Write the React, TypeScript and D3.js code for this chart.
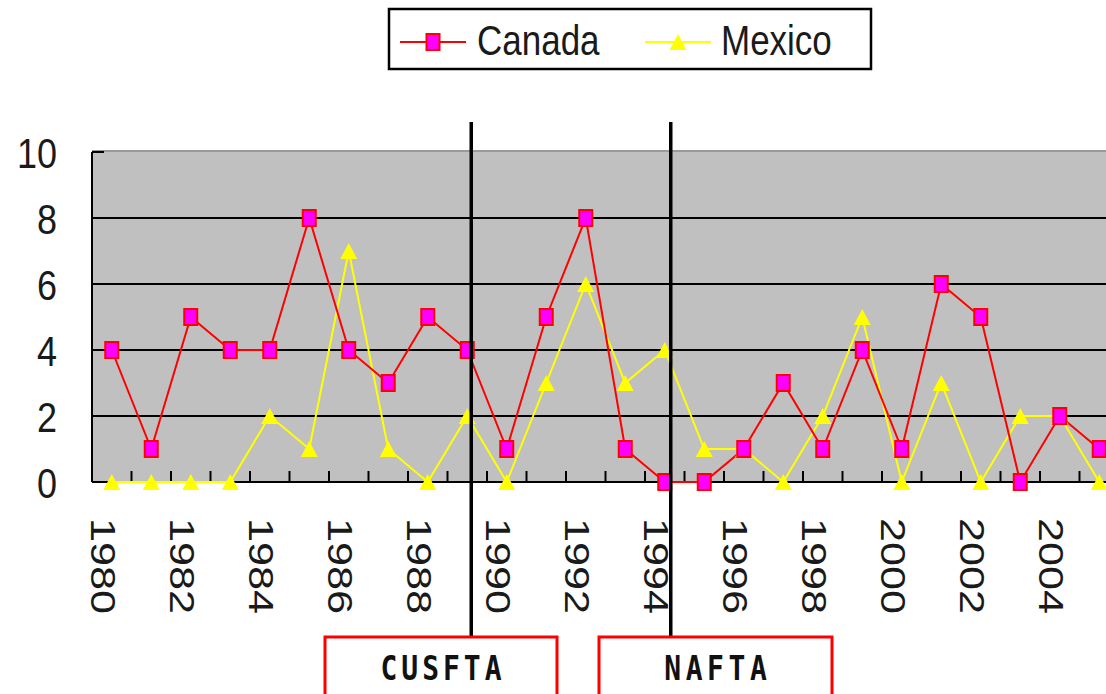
import React from "react";
import * as d3 from "d3";

const years: string[] = [
  "1980", "1981", "1982", "1983", "1984", "1985", "1986", "1987", "1988", "1989",
  "1990", "1991", "1992", "1993", "1994", "1995", "1996", "1997", "1998", "1999",
  "2000", "2001", "2002", "2003", "2004", "2005",
];
const canada: number[] = [4, 1, 5, 4, 4, 8, 4, 3, 5, 4, 1, 5, 8, 1, 0, 0, 1, 3, 1, 4, 1, 6, 5, 0, 2, 1];
const mexico: number[] = [0, 0, 0, 0, 2, 1, 7, 1, 0, 2, 0, 3, 6, 3, 4, 1, 1, 0, 2, 5, 0, 3, 0, 2, 2, 0];
const yTicks: number[] = [0, 2, 4, 6, 8, 10];
const labelYears: string[] = years.filter((_, i) => i % 2 === 0);
const events: { label: string; after: string }[] = [
  { label: "CUSFTA", after: "1989" },
  { label: "NAFTA", after: "1994" },
];

const W = 1106;
const H = 694;
const left = 92;
const bandW = 39.5;
const SY = 1.2;
const font = "'Liberation Sans', Arial, sans-serif";

export default function App() {
  const x = d3.scaleBand<string>().domain(years).range([left, left + years.length * bandW]).padding(0);
  const y = d3.scaleLinear().domain([0, 10]).range([482, 152]);
  const cx = (d: string) => (x(d) as number) + x.bandwidth() / 2;
  const plotRight = left + years.length * bandW;

  const line = d3
    .line<number>()
    .x((_, i) => cx(years[i]))
    .y((d) => y(d));

  const tri = (px: number, py: number, w = 17, h = 16) =>
    `M${px},${py - h / 2}L${px + w / 2},${py + h / 2}L${px - w / 2},${py + h / 2}Z`;

  // event lines are hand-placed overlays just right of the category
  const eventOffsets = [4, 6];
  const boxes = [
    { x0: 325, x1: 557, ls: 4 },
    { x0: 599, x1: 832, ls: 4.6 },
  ];

  return (
    <svg width={W} height={H} style={{ position: "absolute", left: 0, top: 0, background: "#fff" }}>
      {/* Legend */}
      <rect x={389} y={9} width={482} height={60} fill="#fff" stroke="#000" strokeWidth={2.5} />
      <line x1={400} x2={466} y1={42} y2={42} stroke="#ff0000" strokeWidth={2} />
      <rect x={433 - 6.5} y={42 - 8} width={13} height={16} fill="#ff00ff" stroke="#ff0000" strokeWidth={2} />
      <text transform={`translate(477,55) scale(1,${SY})`} fontFamily={font} fontSize={35} fill="#1a1a1a">
        Canada
      </text>
      <line x1={645} x2={711} y1={42} y2={42} stroke="#ffff00" strokeWidth={2} />
      <path d={tri(678, 42)} fill="#ffff00" />
      <text transform={`translate(721,55) scale(1,${SY})`} fontFamily={font} fontSize={35} fill="#1a1a1a">
        Mexico
      </text>

      {/* Plot area */}
      <rect x={left} y={y(10)} width={plotRight - left} height={y(0) - y(10)} fill="#c0c0c0" />
      <line x1={left} x2={plotRight} y1={y(10) - 1} y2={y(10) - 1} stroke="#9a9a9a" strokeWidth={2} />
      {yTicks
        .filter((t) => t > 0 && t < 10)
        .map((t) => (
          <line key={t} x1={left} x2={plotRight} y1={y(t)} y2={y(t)} stroke="#000" strokeWidth={2} />
        ))}
      <line x1={left} x2={left + 12} y1={y(10)} y2={y(10)} stroke="#000" strokeWidth={2} />
      <line x1={left} x2={left} y1={y(10)} y2={y(0)} stroke="#000" strokeWidth={2} />
      <line x1={left} x2={plotRight} y1={y(0)} y2={y(0)} stroke="#000" strokeWidth={2} />
      {years.map((yr) => (
        <line
          key={"t" + yr}
          x1={(x(yr) as number) + bandW}
          x2={(x(yr) as number) + bandW}
          y1={y(0)}
          y2={y(0) - 11}
          stroke="#000"
          strokeWidth={2}
        />
      ))}

      {/* Y labels */}
      {yTicks.map((t) => (
        <text
          key={"yl" + t}
          transform={`translate(57,${y(t) + 15.5}) scale(1,${SY})`}
          textAnchor="end"
          fontFamily={font}
          fontSize={36}
          fill="#1a1a1a"
        >
          {t}
        </text>
      ))}

      {/* X labels */}
      {labelYears.map((yr) => (
        <text
          key={"xl" + yr}
          transform={`translate(${cx(yr) - 20.5},518) scale(1,${SY}) rotate(90)`}
          fontFamily={font}
          fontSize={36}
          fill="#1a1a1a"
        >
          {yr}
        </text>
      ))}

      {/* Series */}
      <path d={line(mexico) as string} fill="none" stroke="#ffff00" strokeWidth={2} />
      <path d={line(canada) as string} fill="none" stroke="#ff0000" strokeWidth={2} />
      {mexico.map((v, i) => (
        <path key={"m" + i} d={tri(cx(years[i]), y(v))} fill="#ffff00" />
      ))}
      {canada.map((v, i) => (
        <rect
          key={"c" + i}
          x={cx(years[i]) - 6.5}
          y={y(v) - 8}
          width={13}
          height={16}
          fill="#ff00ff"
          stroke="#ff0000"
          strokeWidth={2}
        />
      ))}

      {/* Event markers */}
      {events.map((e, i) => {
        const ex = cx(e.after) + eventOffsets[i];
        return (
          <g key={e.label}>
            <line x1={ex} x2={ex} y1={122} y2={637} stroke="#000" strokeWidth={3.5} />
            <rect
              x={boxes[i].x0}
              y={637}
              width={boxes[i].x1 - boxes[i].x0}
              height={80}
              fill="#fff"
              stroke="#ff0000"
              strokeWidth={3}
            />
            <text
              transform={`translate(${(boxes[i].x0 + boxes[i].x1) / 2 + boxes[i].ls / 2},680) scale(1,${SY})`}
              textAnchor="middle"
              fontFamily="'DejaVu Sans Mono', monospace"
              fontWeight="bold"
              fontSize={28}
              letterSpacing={boxes[i].ls}
              fill="#111"
            >
              {e.label}
            </text>
          </g>
        );
      })}
    </svg>
  );
}
